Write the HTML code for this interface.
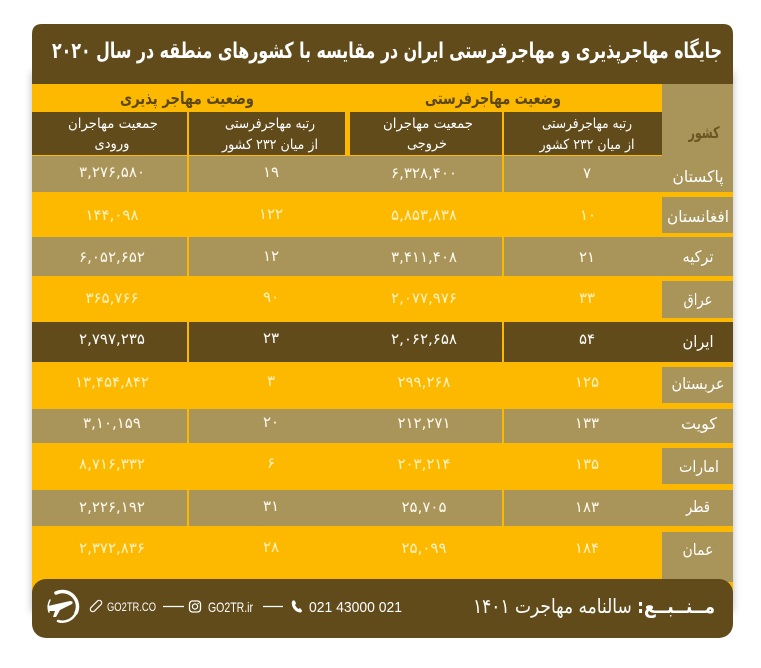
<!DOCTYPE html>
<html>
<head>
<meta charset="utf-8">
<style>
html,body{margin:0;padding:0;background:#fff;}
svg{display:block;}
.ar{font-family:"DejaVu Sans",sans-serif;}
.la{font-family:"Liberation Sans","DejaVu Sans",sans-serif;}
</style>
</head>
<body>
<svg width="761" height="668" viewBox="0 0 761 668" xmlns="http://www.w3.org/2000/svg">
<defs>
<filter id="sh" x="-5%" y="-5%" width="110%" height="110%">
<feDropShadow dx="0" dy="2" stdDeviation="4" flood-color="#000" flood-opacity="0.28"/>
</filter>
</defs>
<rect width="761" height="668" fill="#ffffff"/>

<!-- body -->
<rect x="32" y="70" width="701" height="540" fill="#fdb903" filter="url(#sh)"/>
<!-- title bar -->
<path d="M32,84 V34 Q32,24 42,24 H723 Q733,24 733,34 V84 Z" fill="#614b1b"/>

<!-- country header column -->
<rect x="662" y="84" width="71" height="72" fill="#a99459"/>

<!-- subheader cells -->
<rect x="32" y="112" width="155" height="43" fill="#614b1b"/>
<rect x="189" y="112" width="156" height="43" fill="#614b1b"/>
<rect x="350" y="112" width="152" height="43" fill="#614b1b"/>
<rect x="504" y="112" width="158" height="43" fill="#614b1b"/>

<!-- rows -->
<rect x="32" y="156" width="155" height="36" fill="#a99459"/>
<rect x="189" y="156" width="313" height="36" fill="#a99459"/>
<rect x="504" y="156" width="229" height="36" fill="#a99459"/>
<rect x="662" y="197" width="71" height="36" fill="#a99459"/>
<rect x="32" y="237" width="155" height="39" fill="#a99459"/>
<rect x="189" y="237" width="313" height="39" fill="#a99459"/>
<rect x="504" y="237" width="229" height="39" fill="#a99459"/>
<rect x="662" y="281" width="71" height="37" fill="#a99459"/>
<rect x="32" y="322" width="155" height="40" fill="#614b1b"/>
<rect x="189" y="322" width="313" height="40" fill="#614b1b"/>
<rect x="504" y="322" width="229" height="40" fill="#614b1b"/>
<rect x="662" y="367" width="71" height="36" fill="#a99459"/>
<rect x="32" y="409" width="155" height="34" fill="#a99459"/>
<rect x="189" y="409" width="313" height="34" fill="#a99459"/>
<rect x="504" y="409" width="229" height="34" fill="#a99459"/>
<rect x="662" y="448" width="71" height="36" fill="#a99459"/>
<rect x="32" y="490" width="155" height="36" fill="#a99459"/>
<rect x="189" y="490" width="313" height="36" fill="#a99459"/>
<rect x="504" y="490" width="229" height="36" fill="#a99459"/>
<rect x="662" y="532" width="71" height="50" fill="#a99459"/>

<!-- title -->
<text class="ar" x="387" y="58" text-anchor="middle" direction="rtl" font-size="22" font-weight="bold" fill="#ffffff" textLength="670" lengthAdjust="spacingAndGlyphs">جایگاه مهاجرپذیری و مهاجرفرستی ایران در مقایسه با کشورهای منطقه در سال ۲۰۲۰</text>

<!-- group headers -->
<text class="ar" x="187" y="104" text-anchor="middle" direction="rtl" font-size="17" font-weight="bold" fill="#5c4716" textLength="134" lengthAdjust="spacingAndGlyphs">وضعیت مهاجر پذیری</text>
<text class="ar" x="493" y="104" text-anchor="middle" direction="rtl" font-size="17" font-weight="bold" fill="#5c4716" textLength="136" lengthAdjust="spacingAndGlyphs">وضعیت مهاجرفرستی</text>

<!-- country header -->
<text class="ar" x="704" y="138" text-anchor="middle" direction="rtl" font-size="16" font-weight="bold" fill="#6b5522" textLength="31" lengthAdjust="spacingAndGlyphs">کشور</text>

<!-- subheaders -->
<g class="ar" font-size="14" fill="#ffffff" text-anchor="middle" direction="rtl">
<text x="113" y="128" textLength="90" lengthAdjust="spacingAndGlyphs">جمعیت مهاجران</text>
<text x="112" y="148" textLength="35" lengthAdjust="spacingAndGlyphs">ورودی</text>
<text x="270" y="128" textLength="90" lengthAdjust="spacingAndGlyphs">رتبه مهاجرفرستی</text>
<text x="270" y="149" textLength="96" lengthAdjust="spacingAndGlyphs">از میان ۲۳۲ کشور</text>
<text x="428" y="128" textLength="90" lengthAdjust="spacingAndGlyphs">جمعیت مهاجران</text>
<text x="427" y="148" textLength="40" lengthAdjust="spacingAndGlyphs">خروجی</text>
<text x="587" y="128" textLength="90" lengthAdjust="spacingAndGlyphs">رتبه مهاجرفرستی</text>
<text x="587" y="149" textLength="95" lengthAdjust="spacingAndGlyphs">از میان ۲۳۲ کشور</text>
</g>

<!-- country names -->
<g class="ar" font-size="16" fill="#ffffff" text-anchor="middle" direction="rtl">
<text x="698" y="182" textLength="51" lengthAdjust="spacingAndGlyphs">پاکستان</text>
<text x="698" y="222" textLength="62" lengthAdjust="spacingAndGlyphs">افغانستان</text>
<text x="698" y="262" textLength="31" lengthAdjust="spacingAndGlyphs">ترکیه</text>
<text x="698" y="305" textLength="29" lengthAdjust="spacingAndGlyphs">عراق</text>
<text x="698" y="347" textLength="31" lengthAdjust="spacingAndGlyphs">ایران</text>
<text x="698" y="389" textLength="53" lengthAdjust="spacingAndGlyphs">عربستان</text>
<text x="699" y="429" textLength="36" lengthAdjust="spacingAndGlyphs">کویت</text>
<text x="699" y="472" textLength="40" lengthAdjust="spacingAndGlyphs">امارات</text>
<text x="698" y="512" textLength="24" lengthAdjust="spacingAndGlyphs">قطر</text>
<text x="698" y="555" textLength="31" lengthAdjust="spacingAndGlyphs">عمان</text>
</g>

<!-- numbers -->
<g class="ar" font-size="15" text-anchor="middle">
<g fill="#fffaf0">
<text x="587" y="178">۷</text>
<text x="424" y="178">۶,۳۲۸,۴۰۰</text>
<text x="271" y="177">۱۹</text>
<text x="112" y="177">۳,۲۷۶,۵۸۰</text>
</g>
<g fill="#fff2c2">
<text x="588" y="220">۱۰</text>
<text x="424" y="220">۵,۸۵۳,۸۳۸</text>
<text x="271" y="219">۱۲۲</text>
<text x="112" y="220">۱۴۴,۰۹۸</text>
</g>
<g fill="#fffaf0">
<text x="587" y="262">۲۱</text>
<text x="424" y="262">۳,۴۱۱,۴۰۸</text>
<text x="271" y="261">۱۲</text>
<text x="112" y="262">۶,۰۵۲,۶۵۲</text>
</g>
<g fill="#fff2c2">
<text x="587" y="303">۳۳</text>
<text x="424" y="303">۲,۰۷۷,۹۷۶</text>
<text x="271" y="302">۹۰</text>
<text x="112" y="303">۳۶۵,۷۶۶</text>
</g>
<g fill="#ffffff">
<text x="587" y="344">۵۴</text>
<text x="424" y="344">۲,۰۶۲,۶۵۸</text>
<text x="271" y="343">۲۳</text>
<text x="112" y="344">۲,۷۹۷,۲۳۵</text>
</g>
<g fill="#fff2c2">
<text x="587" y="387">۱۲۵</text>
<text x="424" y="387">۲۹۹,۲۶۸</text>
<text x="271" y="386">۳</text>
<text x="112" y="387">۱۳,۴۵۴,۸۴۲</text>
</g>
<g fill="#fffaf0">
<text x="587" y="428">۱۳۳</text>
<text x="424" y="428">۲۱۲,۲۷۱</text>
<text x="271" y="427">۲۰</text>
<text x="112" y="428">۳,۱۰,۱۵۹</text>
</g>
<g fill="#fff2c2">
<text x="587" y="469">۱۳۵</text>
<text x="424" y="469">۲۰۳,۲۱۴</text>
<text x="271" y="468">۶</text>
<text x="112" y="469">۸,۷۱۶,۳۳۲</text>
</g>
<g fill="#fffaf0">
<text x="587" y="512">۱۸۳</text>
<text x="424" y="512">۲۵,۷۰۵</text>
<text x="271" y="511">۳۱</text>
<text x="112" y="512">۲,۲۲۶,۱۹۲</text>
</g>
<g fill="#fff2c2">
<text x="587" y="553">۱۸۴</text>
<text x="424" y="553">۲۵,۰۹۹</text>
<text x="271" y="552">۲۸</text>
<text x="112" y="553">۲,۳۷۲,۸۳۶</text>
</g>
</g>

<!-- footer -->
<rect x="32" y="579" width="701" height="59" rx="14" ry="14" fill="#614b1b"/>

<text class="ar" x="594" y="613" text-anchor="middle" direction="rtl" font-size="20" fill="#ffffff" textLength="242" lengthAdjust="spacingAndGlyphs"><tspan font-weight="bold">مــنــبــع:</tspan> سالنامه مهاجرت ۱۴۰۱</text>

<!-- logo -->
<g fill="none" stroke="#ffffff" stroke-linecap="round">
<path d="M56,593 A15,15 0 0 1 76,613" stroke-width="3.5"/>
<path d="M76,613 A15,15 0 0 1 58,621" stroke-width="2.5"/>
<path d="M50,600 A15,15 0 0 0 49,612" stroke-width="1.5"/>
</g>
<path d="M48,606 L70,601 Q74,601 72,604 L60,610 L56,617 L53,617 L55,611 L49,611 Z" fill="#ffffff"/>

<!-- link icon -->
<g transform="rotate(-45 96 606)" fill="none" stroke="#ffffff" stroke-width="1.2">
<rect x="89" y="603.5" width="14" height="5" rx="2.5"/>
</g>
<text class="la" x="131.5" y="611" text-anchor="middle" font-size="12" fill="#ffffff" textLength="49" lengthAdjust="spacingAndGlyphs">GO2TR.CO</text>
<line x1="163" y1="606.5" x2="184" y2="606.5" stroke="#ffffff" stroke-width="1.3"/>
<rect x="189.5" y="601" width="11" height="11" rx="3" fill="none" stroke="#ffffff" stroke-width="1.3"/>
<circle cx="195" cy="606.5" r="2.6" fill="none" stroke="#ffffff" stroke-width="1.2"/>
<circle cx="198.2" cy="603.4" r="0.7" fill="#ffffff"/>
<text class="la" x="230.5" y="612" text-anchor="middle" font-size="14" fill="#ffffff" textLength="45" lengthAdjust="spacingAndGlyphs">GO2TR.ir</text>
<line x1="263" y1="606.5" x2="283" y2="606.5" stroke="#ffffff" stroke-width="1.3"/>
<path d="M292,601.5 Q293,600 294.5,600.5 L296,603 Q296,604 295,604.8 Q296,607.5 298.5,609 Q299.3,608 300.3,608.3 L302,610.5 Q302,612 300.5,612.5 Q296.5,612.5 293.5,608.5 Q291.2,605 292,601.5 Z" fill="#ffffff"/>
<text class="la" x="355.5" y="612" text-anchor="middle" font-size="15" fill="#ffffff" textLength="93" lengthAdjust="spacingAndGlyphs">021 43000 021</text>
</svg>
</body>
</html>
